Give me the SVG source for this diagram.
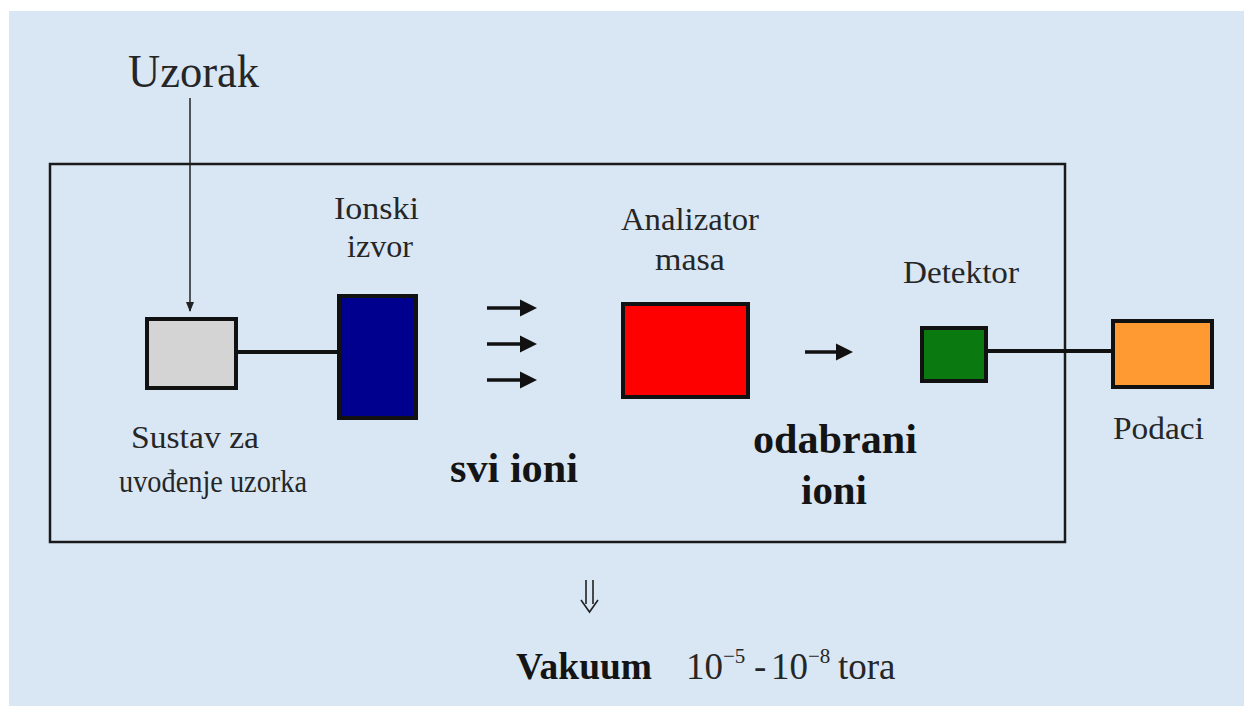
<svg xmlns="http://www.w3.org/2000/svg" width="1244" height="706" viewBox="0 0 1244 706">
<style>
.lbl{font-family:"Liberation Serif","Times New Roman",serif;fill:#262626}
.b{font-weight:bold;fill:#141414}
.box{stroke:#111;stroke-width:4}
.wire{stroke:#111;stroke-width:4;fill:none}
.ion{stroke:#111;stroke-width:3.5;fill:none}
</style>
<defs>
<marker id="ah" markerWidth="5" markerHeight="5" refX="1" refY="2.5" orient="auto" markerUnits="strokeWidth">
<path d="M0,0 L5,2.5 L0,5 Z" fill="#111"/>
</marker>
<marker id="thin" markerWidth="10" markerHeight="8" refX="9" refY="4" orient="auto" markerUnits="userSpaceOnUse">
<path d="M0,0 L10,4 L0,8 Z" fill="#222"/>
</marker>
</defs>
<rect x="0" y="0" width="1244" height="706" fill="#ffffff"/>
<rect x="9" y="11" width="1235" height="695" fill="#d9e7f5"/>
<rect x="50" y="164" width="1015" height="378" fill="none" stroke="#1a1a1a" stroke-width="2.5"/>

<g id="connectors">
<line x1="190" y1="98" x2="190" y2="311" stroke="#222" stroke-width="1.5" marker-end="url(#thin)"/>
<line class="wire" x1="237" y1="352" x2="338" y2="352"/>
<line class="wire" x1="987" y1="351" x2="1112" y2="351"/>
<line class="ion" x1="487" y1="308" x2="523" y2="308" marker-end="url(#ah)"/>
<line class="ion" x1="487" y1="344" x2="523" y2="344" marker-end="url(#ah)"/>
<line class="ion" x1="487" y1="380" x2="523" y2="380" marker-end="url(#ah)"/>
<line class="ion" x1="805" y1="352" x2="839" y2="352" marker-end="url(#ah)"/>
<path d="M586,580 V604 M593,580 V604 M581,600 L589.5,612 L598,600" stroke="#222" stroke-width="1.6" fill="none"/>
</g>

<g id="uzorak"><text class="lbl" x="128" y="87" font-size="46" textLength="131" lengthAdjust="spacingAndGlyphs">Uzorak</text></g>

<g id="sustav">
<rect class="box" x="147" y="319" width="89" height="69" fill="#d4d4d4"/>
<text class="lbl" x="131" y="448" font-size="31" textLength="128" lengthAdjust="spacingAndGlyphs">Sustav za</text>
<text class="lbl" x="119" y="492" font-size="31" textLength="188" lengthAdjust="spacingAndGlyphs">uvođenje uzorka</text>
</g>

<g id="ionski-izvor">
<rect class="box" x="339" y="296" width="77" height="122" fill="#00008f"/>
<text class="lbl" x="334" y="219" font-size="31" textLength="85" lengthAdjust="spacingAndGlyphs">Ionski</text>
<text class="lbl" x="347" y="257" font-size="31" textLength="66" lengthAdjust="spacingAndGlyphs">izvor</text>
</g>

<g id="svi-ioni"><text class="lbl b" x="450" y="482" font-size="42" textLength="128" lengthAdjust="spacingAndGlyphs">svi ioni</text></g>

<g id="analizator">
<rect class="box" x="623" y="304" width="125" height="93" fill="#ff0000"/>
<text class="lbl" x="621" y="230" font-size="31" textLength="138" lengthAdjust="spacingAndGlyphs">Analizator</text>
<text class="lbl" x="655" y="270" font-size="31" textLength="70" lengthAdjust="spacingAndGlyphs">masa</text>
</g>

<g id="odabrani-ioni">
<text class="lbl b" x="753" y="453" font-size="42" textLength="164" lengthAdjust="spacingAndGlyphs">odabrani</text>
<text class="lbl b" x="801" y="504" font-size="42" textLength="66" lengthAdjust="spacingAndGlyphs">ioni</text>
</g>

<g id="detektor">
<rect class="box" x="922" y="328" width="64" height="53" fill="#0a7a10"/>
<text class="lbl" x="903" y="283" font-size="31" textLength="116" lengthAdjust="spacingAndGlyphs">Detektor</text>
</g>

<g id="podaci">
<rect class="box" x="1113" y="321" width="99" height="66" fill="#ff9a33"/>
<text class="lbl" x="1113" y="439" font-size="31" textLength="91" lengthAdjust="spacingAndGlyphs">Podaci</text>
</g>

<g id="vakuum">
<text class="lbl b" x="516" y="679" font-size="37" textLength="136" lengthAdjust="spacingAndGlyphs">Vakuum</text>
<text class="lbl" y="679" font-size="37"><tspan x="686">10</tspan><tspan x="723" y="663" font-size="21">−5</tspan><tspan x="754" y="679">-</tspan><tspan x="771">10</tspan><tspan x="808" y="663" font-size="21">−8</tspan><tspan x="838" y="679">tora</tspan></text>
</g>
</svg>
